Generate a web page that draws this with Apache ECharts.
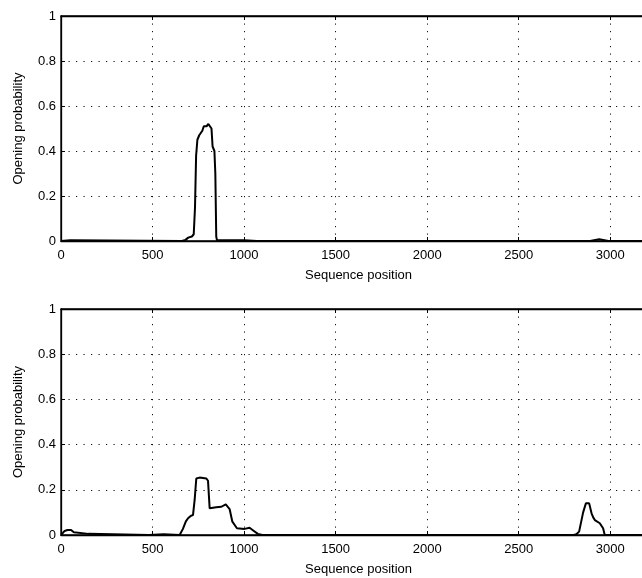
<!DOCTYPE html>
<html>
<head>
<meta charset="utf-8">
<script src="https://cdn.jsdelivr.net/npm/echarts@6/dist/echarts.min.js"></script>
<style>
html,body{margin:0;padding:0;background:#fff;overflow:hidden;width:642px;height:578px;}
#c{width:700px;height:578px;}
</style>
</head>
<body>
<div id="c"></div>
<script>
// Top panel: sequence position / opening probability
const topX = [0, 10, 50, 60, 660, 680, 695, 715, 725, 732, 738, 745, 755, 765, 772, 780, 795, 805, 815, 822, 828, 838, 843, 848, 852, 1000, 1010, 1070, 1075, 1080, 2890, 2900, 2940, 2950, 2990, 3250];
const topY = [0, 0.003, 0.003, 0, 0, 0.005, 0.015, 0.02, 0.03, 0.15, 0.38, 0.45, 0.47, 0.47, 0.49, 0.51, 0.51, 0.52, 0.52, 0.50, 0.42, 0.40, 0.30, 0.02, 0.003, 0.003, 0, 0, 0.005, 0, 0, 0.008, 0.008, 0.003, 0, 0];
// Bottom panel
const botX = [0, 10, 20, 35, 55, 70, 80, 150, 160, 480, 490, 560, 570, 648, 666, 682, 694, 710, 721, 730, 739, 757, 794, 803, 812, 848, 876, 900, 910, 921, 936, 961, 1003, 1030, 1050, 1075, 1100, 2800, 2815, 2830, 2852, 2867, 2885, 2898, 2907, 2916, 2943, 2961, 2970, 3250];
const botY = [0, 0.005, 0.018, 0.022, 0.022, 0.012, 0.005, 0.005, 0, 0, 0.003, 0.003, 0, 0, 0.027, 0.06, 0.074, 0.085, 0.088, 0.155, 0.25, 0.254, 0.25, 0.24, 0.118, 0.123, 0.125, 0.136, 0.13, 0.115, 0.059, 0.03, 0.027, 0.032, 0.02, 0.005, 0, 0, 0.003, 0.015, 0.10, 0.14, 0.14, 0.096, 0.078, 0.066, 0.052, 0.03, 0, 0];
const xTicks = [0, 500, 1000, 1500, 2000, 2500, 3000];
const yTicks = [0, 0.2, 0.4, 0.6, 0.8, 1];
const xName = 'Sequence position';
const yName = 'Opening probability';

const FONT = 'Liberation Sans, Arial, Helvetica, sans-serif';
const FS = 13;
const xMin = 0, xMax = 3250;
const dotted = {color: '#111', width: 1, type: [1.2, 6.3]};
const grids = [
  {left: 61, top: 16, width: 595, height: 225},
  {left: 61, top: 309, width: 595, height: 226}
];
function fmtY(v){ return v === 0 ? '0' : (v === 1 ? '1' : String(v)); }
const xAxes = [], yAxes = [];
grids.forEach((g, i) => {
  g.show = true; g.borderColor = '#000'; g.borderWidth = 1.3; g.backgroundColor = 'transparent';
  xAxes.push({
    type: 'value', gridIndex: i, min: xMin, max: xMax, interval: 500,
    name: xName, nameLocation: 'middle', nameGap: 28,
    nameTextStyle: {fontFamily: FONT, fontSize: FS, color: '#000'},
    axisLine: {show: true, onZero: false, lineStyle: {color: '#000', width: 1.3}},
    axisTick: {show: true, inside: true, length: 4, lineStyle: {color: '#000'}},
    axisLabel: {fontFamily: FONT, fontSize: FS, color: '#000', margin: 8,
      formatter: v => xTicks.indexOf(v) >= 0 ? String(v) : ''},
    splitLine: {show: true, lineStyle: dotted}
  });
  xAxes.push({
    type: 'value', gridIndex: i, min: xMin, max: xMax, interval: 500, position: 'top',
    axisLine: {show: true, onZero: false, lineStyle: {color: '#000', width: 1.3}},
    axisTick: {show: true, inside: true, length: 4, lineStyle: {color: '#000'}},
    axisLabel: {show: false}, splitLine: {show: false}
  });
  yAxes.push({
    type: 'value', gridIndex: i, min: 0, max: 1, interval: 0.2,
    name: yName, nameLocation: 'middle', nameGap: 36, nameRotate: 90,
    nameTextStyle: {fontFamily: FONT, fontSize: FS, color: '#000'},
    axisLine: {show: true, onZero: false, lineStyle: {color: '#000', width: 1.3}},
    axisTick: {show: true, inside: true, length: 4, lineStyle: {color: '#000'}},
    axisLabel: {fontFamily: FONT, fontSize: FS, color: '#000', margin: 5,
      formatter: v => fmtY(Math.round(v * 10) / 10)},
    splitLine: {show: true, lineStyle: dotted}
  });
});
function pairs(xs, ys){ return xs.map((x, k) => [x, ys[k]]); }
const chart = echarts.init(document.getElementById('c'), null, {renderer: 'canvas'});
chart.setOption({
  animation: false,
  backgroundColor: '#fff',
  grid: grids,
  xAxis: xAxes,
  yAxis: yAxes,
  series: [
    {type: 'line', xAxisIndex: 0, yAxisIndex: 0, data: pairs(topX, topY), showSymbol: false, symbol: 'none',
     lineStyle: {color: '#000', width: 2}, z: 5},
    {type: 'line', xAxisIndex: 2, yAxisIndex: 1, data: pairs(botX, botY), showSymbol: false, symbol: 'none',
     lineStyle: {color: '#000', width: 2}, z: 5}
  ]
});
</script>
</body>
</html>
